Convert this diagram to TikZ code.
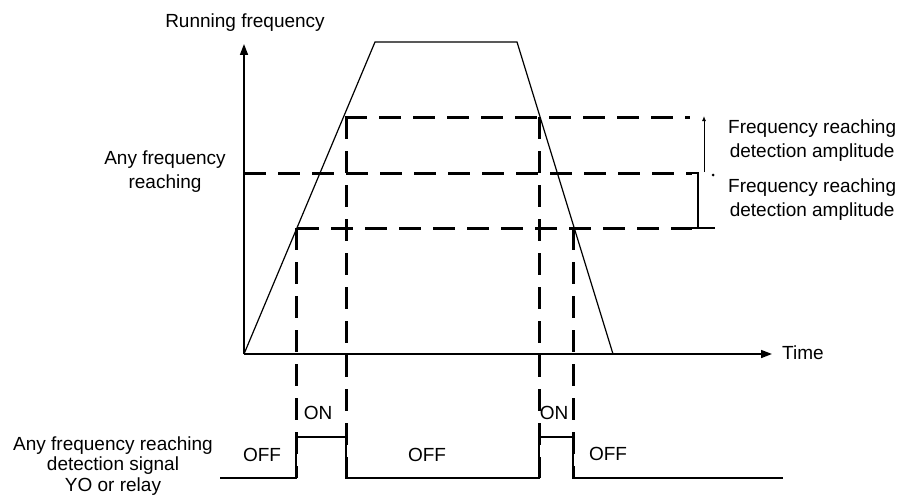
\documentclass[tikz,border=0pt]{standalone}
\usepackage{fontspec}
\setmainfont{Liberation Sans}
\usetikzlibrary{arrows.meta}

\begin{document}
\begin{tikzpicture}[x=1pt,y=-1pt,every node/.style={font=\fontsize{19}{24}\selectfont,align=center,inner sep=0pt},
  axis/.style={line width=1.6pt,-{Triangle[length=11pt,width=8pt]}},
  curve/.style={line width=1.2pt},
  level/.style={line width=3pt,dash pattern=on 22pt off 12pt},
  signal/.style={line width=1.6pt}]
  \useasboundingbox (0,0) rectangle (901,503);

  % Axes
  \coordinate (O) at (244,354);
  \coordinate (ytip) at (244,44);
  \coordinate (xtip) at (772,354);
  \draw[axis] (O) -- (ytip);
  \draw[axis] (O) -- (xtip);
  \node (ylabel) at (245,23) {Running frequency};
  \node[anchor=west] (xlabel) at (782,353) {Time};

  % Frequency curve
  \coordinate (up) at (375,42);
  \coordinate (down) at (517,42);
  \coordinate (stop) at (613,354);
  \draw[curve] (O) -- (up) -- (down) -- (stop);

  % Detection levels
  \draw[level] (345,117) -- (690,117);
  \draw[level] (244,173) -- (692,173);
  \draw[level] (297,228) -- (692,228);
  \node (target) at (165,172) {Any frequency\\reaching};

  % Vertical projections
  \draw[level] (296,228) -- (296,478);
  \draw[level] (346,117) -- (346,478);
  \draw[level] (539,117) -- (539,478);
  \draw[level] (573,228) -- (573,478);

  % Amplitude brackets
  \draw[line width=1pt,-{Latex[length=5pt,width=4pt]}] (704,172) -- (704,116);
  \fill (713,175) circle (1.5);
  \draw[line width=1.4pt] (690,173) -- (698,173) -- (698,228);
  \draw[line width=2.6pt] (692,228) -- (715,228);
  \node[anchor=west] (amp1) at (728,141) {Frequency reaching\\detection amplitude};
  \node[anchor=west] (amp2) at (728,200) {Frequency reaching\\detection amplitude};

  % Output signal
  \draw[signal] (220,478) -- (296,478) -- (296,437) -- (346,437) -- (346,478)
    -- (539,478) -- (539,437) -- (573,437) -- (573,478) -- (783,478);
  \node (off1) at (262,455) {OFF};
  \node (on1) at (318,413) {ON};
  \node (off2) at (427,455) {OFF};
  \node (on2) at (554,413) {ON};
  \node (off3) at (608,454) {OFF};
  \node[font=\fontsize{19}{20.5}\selectfont] (relay) at (113,466) {Any frequency reaching\\detection signal\\YO or relay};
\end{tikzpicture}
\end{document}
